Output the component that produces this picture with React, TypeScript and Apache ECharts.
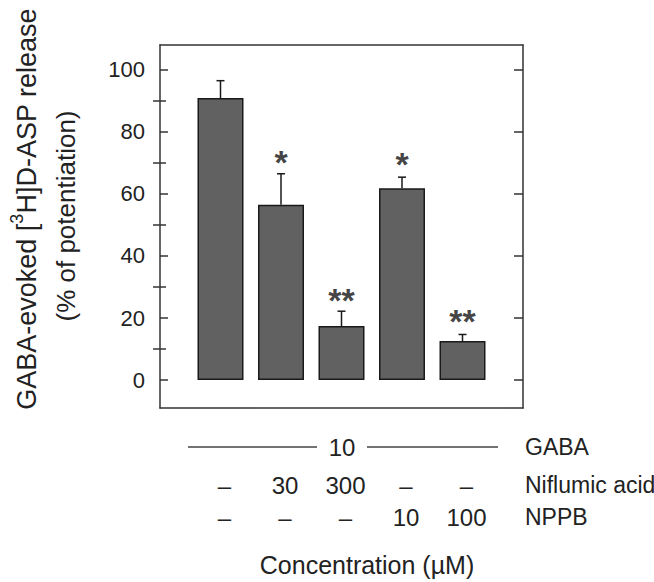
import React, { useEffect, useRef } from "react";
import * as echarts from "echarts";

// ---- data ----
const positions = [1, 2, 3, 4, 5];
const means = [90.9, 56.5, 17.4, 61.8, 12.6];
const sem = [5.6, 10.0, 4.8, 3.6, 2.1];
const significance = ["", "*", "**", "*", "**"];
const sigValues = [0, 71.9, 27.3, 71.4, 20.6];
const gabaConc = "10";
const niflumicRow = ["–", "30", "300", "–", "–"];
const nppbRow = ["–", "–", "–", "10", "100"];
const rowNames = ["GABA", "Niflumic acid", "NPPB"];
const yMajor = [0, 20, 40, 60, 80, 100];
const yMinor = [10, 30, 50, 70, 90];

const FONT = "'Liberation Sans', Arial, Helvetica, sans-serif";

export default function App() {
  const ref = useRef<HTMLDivElement>(null);
  useEffect(() => {
    if (!ref.current) return;
    const chart = echarts.init(ref.current, undefined, { renderer: "svg" });
    const W = 654;
    const H = 582;
    const gl = 160, gr = 523, gt = 45, gb = 408;
    const xMin = 0, xMax = 6;
    const unit = (gr - gl) / (xMax - xMin);
    const colX = (i: number) => gl + (positions[i] - xMin) * unit + 4;
    const textColor = "#222";
    const axisColor = "#333";

    const graphic: any[] = [];
    // y axis title (two lines)
    graphic.push({
      type: "text",
      x: 24,
      y: 209,
      rotation: Math.PI / 2,
      style: {
        text: "{a|GABA-evoked [}{s|3}{a|H]D-ASP release}",
        align: "center",
        verticalAlign: "middle",
        fill: textColor,
        rich: {
          a: { fontSize: 27, fontFamily: FONT, fill: textColor, lineHeight: 32, verticalAlign: "bottom" },
          s: { fontSize: 18, fontFamily: FONT, fill: textColor, lineHeight: 32, verticalAlign: "top" },
        },
      },
    });
    graphic.push({
      type: "text",
      x: 66,
      y: 216,
      rotation: Math.PI / 2,
      style: {
        text: "(% of potentiation)",
        fontSize: 26,
        fontFamily: FONT,
        fill: textColor,
        align: "center",
        verticalAlign: "middle",
      },
    });
    // GABA row
    const rowY = [447, 485, 517];
    graphic.push({
      type: "line",
      shape: { x1: 188, y1: rowY[0], x2: 317, y2: rowY[0] },
      style: { stroke: "#444", lineWidth: 1.5 },
    });
    graphic.push({
      type: "line",
      shape: { x1: 367, y1: rowY[0], x2: 498, y2: rowY[0] },
      style: { stroke: "#444", lineWidth: 1.5 },
    });
    graphic.push({
      type: "text",
      x: (317 + 367) / 2,
      y: rowY[0],
      style: { text: gabaConc, fontSize: 24, fontFamily: FONT, fill: textColor, align: "center", verticalAlign: "middle" },
    });
    niflumicRow.forEach((t, i) => {
      graphic.push({
        type: "text",
        x: colX(i),
        y: rowY[1],
        style: { text: t, fontSize: 24, fontFamily: FONT, fill: textColor, align: "center", verticalAlign: "middle" },
      });
    });
    nppbRow.forEach((t, i) => {
      graphic.push({
        type: "text",
        x: colX(i),
        y: rowY[2],
        style: { text: t, fontSize: 24, fontFamily: FONT, fill: textColor, align: "center", verticalAlign: "middle" },
      });
    });
    rowNames.forEach((t, i) => {
      graphic.push({
        type: "text",
        x: 525,
        y: rowY[i],
        style: { text: t, fontSize: 23, fontFamily: FONT, fill: textColor, align: "left", verticalAlign: "middle" },
      });
    });
    graphic.push({
      type: "text",
      x: 367,
      y: 565,
      style: { text: "Concentration (µM)", fontSize: 25, fontFamily: FONT, fill: textColor, align: "center", verticalAlign: "middle" },
    });

    const yBase = {
      type: "value",
      min: -9,
      max: 108,
      splitLine: { show: false },
    };

    chart.setOption({
      animation: false,
      backgroundColor: "#fff",
      grid: { left: gl, right: W - gr, top: gt, bottom: H - gb, containLabel: false },
      xAxis: [
        {
          type: "value",
          min: xMin,
          max: xMax,
          position: "bottom",
          axisLine: { show: true, onZero: false, lineStyle: { color: axisColor, width: 1.5 } },
          axisTick: { show: false },
          axisLabel: { show: false },
          splitLine: { show: false },
        },
        {
          type: "value",
          min: xMin,
          max: xMax,
          position: "top",
          axisLine: { show: true, onZero: false, lineStyle: { color: axisColor, width: 1.5 } },
          axisTick: { show: false },
          axisLabel: { show: false },
          splitLine: { show: false },
        },
      ],
      yAxis: [
        {
          ...yBase,
          position: "left",
          axisLine: { show: true, onZero: false, lineStyle: { color: axisColor, width: 1.5 } },
          axisTick: { show: true, inside: true, length: 8, customValues: yMajor, lineStyle: { color: axisColor, width: 1.5 } },
          axisLabel: { show: true, customValues: yMajor, margin: 15, fontSize: 22, fontFamily: FONT, color: textColor },
        },
        {
          ...yBase,
          position: "left",
          axisLine: { show: false },
          axisTick: { show: true, inside: true, length: 6, customValues: yMinor, lineStyle: { color: axisColor, width: 1.5 } },
          axisLabel: { show: false },
        },
        {
          ...yBase,
          position: "right",
          axisLine: { show: true, onZero: false, lineStyle: { color: axisColor, width: 1.5 } },
          axisTick: { show: true, inside: true, length: 9, customValues: yMajor, lineStyle: { color: axisColor, width: 1.5 } },
          axisLabel: { show: false },
        },
        {
          ...yBase,
          position: "right",
          axisLine: { show: false },
          axisTick: { show: true, inside: true, length: 7, customValues: yMinor, lineStyle: { color: axisColor, width: 1.5 } },
          axisLabel: { show: false },
        },
      ],
      series: [
        {
          type: "bar",
          xAxisIndex: 0,
          yAxisIndex: 0,
          barWidth: 46,
          data: positions.map((p, i) => [p, means[i]]),
          itemStyle: { color: "#616161", borderColor: "#1a1a1a", borderWidth: 1.5 },
        },
        {
          type: "custom",
          xAxisIndex: 0,
          yAxisIndex: 0,
          data: positions.map((p, i) => [p, means[i], means[i] + sem[i]]),
          renderItem: (params: any, api: any) => {
            const x = api.value(0);
            const lo = api.coord([x, api.value(1)]);
            const hi = api.coord([x, api.value(2)]);
            const cap = 4;
            return {
              type: "group",
              children: [
                { type: "line", shape: { x1: lo[0], y1: lo[1], x2: hi[0], y2: hi[1] }, style: { stroke: "#1a1a1a", lineWidth: 1.5 } },
                { type: "line", shape: { x1: hi[0] - cap, y1: hi[1], x2: hi[0] + cap, y2: hi[1] }, style: { stroke: "#1a1a1a", lineWidth: 1.5 } },
              ],
            };
          },
          z: 3,
        },
        {
          type: "scatter",
          xAxisIndex: 0,
          yAxisIndex: 0,
          symbolSize: 0,
          data: positions
            .map((p, i) => ({ value: [p, sigValues[i]], sig: significance[i] }))
            .filter((d) => d.sig !== ""),
          label: {
            show: true,
            position: "inside",
            offset: [0, 5],
            formatter: (p: any) => p.data.sig,
            fontSize: 34,
            fontWeight: "bold",
            fontFamily: FONT,
            color: "#111",
          },
          z: 4,
        },
      ],
      graphic,
    });
    return () => chart.dispose();
  }, []);
  return <div ref={ref} style={{ width: 654, height: 582, position: "absolute", left: 0, top: 0 }} />;
}
